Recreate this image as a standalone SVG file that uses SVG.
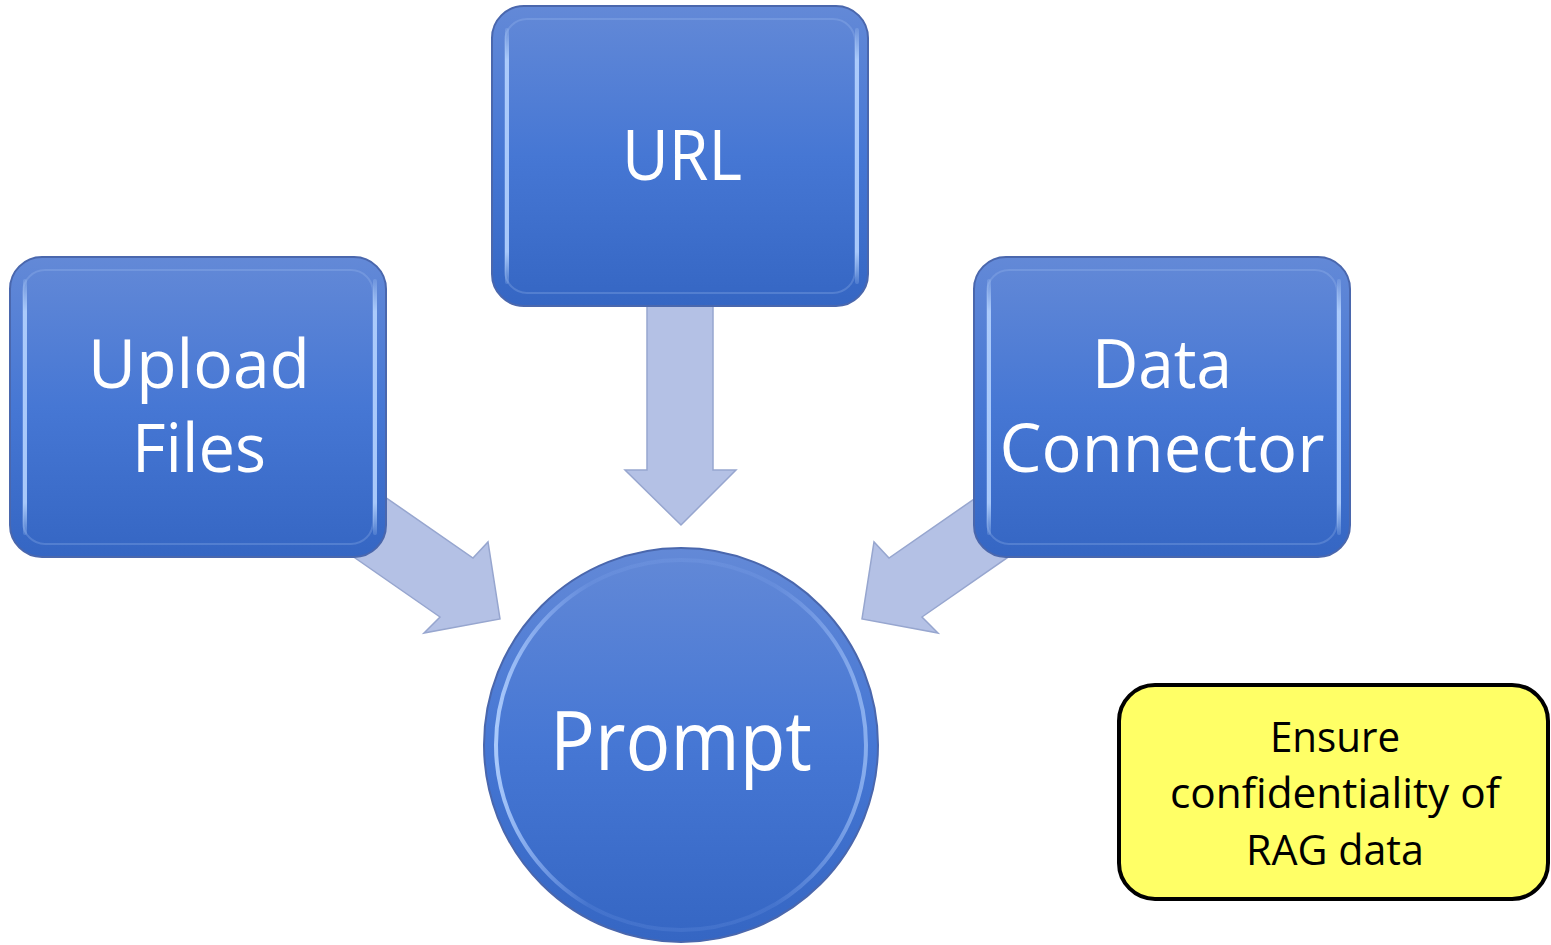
<svg xmlns="http://www.w3.org/2000/svg" width="1551" height="945" viewBox="0 0 1551 945">
  <defs>
    <linearGradient id="boxFill" x1="0" y1="0" x2="0" y2="1">
      <stop offset="0" stop-color="#6389d7"/>
      <stop offset="0.5" stop-color="#4677d4"/>
      <stop offset="1" stop-color="#3566c3"/>
    </linearGradient>
    <linearGradient id="edgeLight" x1="0" y1="0" x2="0" y2="1">
      <stop offset="0" stop-color="#c0dcff" stop-opacity="0.2"/>
      <stop offset="0.12" stop-color="#b4d2ff" stop-opacity="0.9"/>
      <stop offset="0.88" stop-color="#b4d2ff" stop-opacity="0.9"/>
      <stop offset="1" stop-color="#c0dcff" stop-opacity="0.2"/>
    </linearGradient>
    <linearGradient id="circleFill" x1="0" y1="0" x2="0" y2="1">
      <stop offset="0" stop-color="#6389d7"/>
      <stop offset="0.5" stop-color="#4677d4"/>
      <stop offset="1" stop-color="#3566c3"/>
    </linearGradient>
    <linearGradient id="circleRim" x1="0" y1="0" x2="1" y2="0">
      <stop offset="0" stop-color="#b4d2ff" stop-opacity="0.9"/>
      <stop offset="0.25" stop-color="#a0c0ff" stop-opacity="0.12"/>
      <stop offset="0.75" stop-color="#a0c0ff" stop-opacity="0.12"/>
      <stop offset="1" stop-color="#b4d2ff" stop-opacity="0.6"/>
    </linearGradient>
  </defs>
  <style>
    .box { fill: url(#boxFill); stroke: #4a67ad; stroke-width: 2; }
    .rim { fill: none; stroke: #a8c4f4; stroke-opacity: 0.25; stroke-width: 2; }
    .edge { fill: none; stroke: url(#edgeLight); stroke-width: 4; stroke-linecap: round; }
    .arrow { fill: #b4c1e5; stroke: #97a6cf; stroke-width: 1.5; stroke-linejoin: miter; }
    .lbl { font-family: "Open Sans", "Noto Sans", sans-serif; fill: #ffffff; text-anchor: middle; }
    .note { font-family: "Open Sans", "Noto Sans", sans-serif; fill: #000000; text-anchor: middle; font-size: 42px; }
  </style>

  <g id="connectors">
    <!-- URL down to Prompt -->
    <polygon class="arrow" points="647,300 713,300 713,470 736,470 681,525 625,470 647,470"/>
    <!-- Upload Files to Prompt -->
    <polygon class="arrow" points="320,452 473,558 488,542 500,619 424,633 440,617 289,512"/>
    <!-- Data Connector to Prompt (mirror of the left one) -->
    <polygon class="arrow" transform="translate(1362,0) scale(-1,1)" points="320,452 473,558 488,542 500,619 424,633 440,617 289,512"/>
  </g>

  <g id="node-url">
    <rect class="box" x="492" y="6" width="376" height="300" rx="32"/>
    <rect class="rim" x="505" y="19" width="350" height="274" rx="22"/>
    <path class="edge" d="M507,30 V282 M857,30 V282"/>
    <text class="lbl" x="682" y="180" font-size="70" textLength="120" lengthAdjust="spacingAndGlyphs">URL</text>
  </g>

  <g id="node-upload">
    <rect class="box" x="10" y="257" width="376" height="300" rx="32"/>
    <rect class="rim" x="23" y="270" width="350" height="274" rx="22"/>
    <path class="edge" d="M25,281 V533 M375,281 V533"/>
    <text class="lbl" x="199" y="388" font-size="68" textLength="222" lengthAdjust="spacingAndGlyphs">Upload</text>
    <text class="lbl" x="199" y="472" font-size="68" textLength="134" lengthAdjust="spacingAndGlyphs">Files</text>
  </g>

  <g id="node-connector">
    <rect class="box" x="974" y="257" width="376" height="300" rx="32"/>
    <rect class="rim" x="987" y="270" width="350" height="274" rx="22"/>
    <path class="edge" d="M989,281 V533 M1339,281 V533"/>
    <text class="lbl" x="1162" y="388" font-size="68" textLength="140" lengthAdjust="spacingAndGlyphs">Data</text>
    <text class="lbl" x="1162" y="472" font-size="68" textLength="325" lengthAdjust="spacingAndGlyphs">Connector</text>
  </g>

  <g id="node-prompt">
    <circle cx="681" cy="745" r="197" fill="url(#circleFill)" stroke="#4a67ad" stroke-width="2"/>
    <circle cx="681" cy="745" r="185" fill="none" stroke="url(#circleRim)" stroke-width="4"/>
    <text class="lbl" x="681" y="770" font-size="82" textLength="262" lengthAdjust="spacingAndGlyphs">Prompt</text>
  </g>

  <g id="note">
    <rect x="1119" y="685" width="429" height="214" rx="36" fill="#ffff66" stroke="#000000" stroke-width="4"/>
    <text class="note" x="1335" y="752" textLength="130" lengthAdjust="spacingAndGlyphs">Ensure</text>
    <text class="note" x="1335" y="808" textLength="330" lengthAdjust="spacingAndGlyphs">confidentiality of</text>
    <text class="note" x="1335" y="865" textLength="178" lengthAdjust="spacingAndGlyphs">RAG data</text>
  </g>
</svg>
